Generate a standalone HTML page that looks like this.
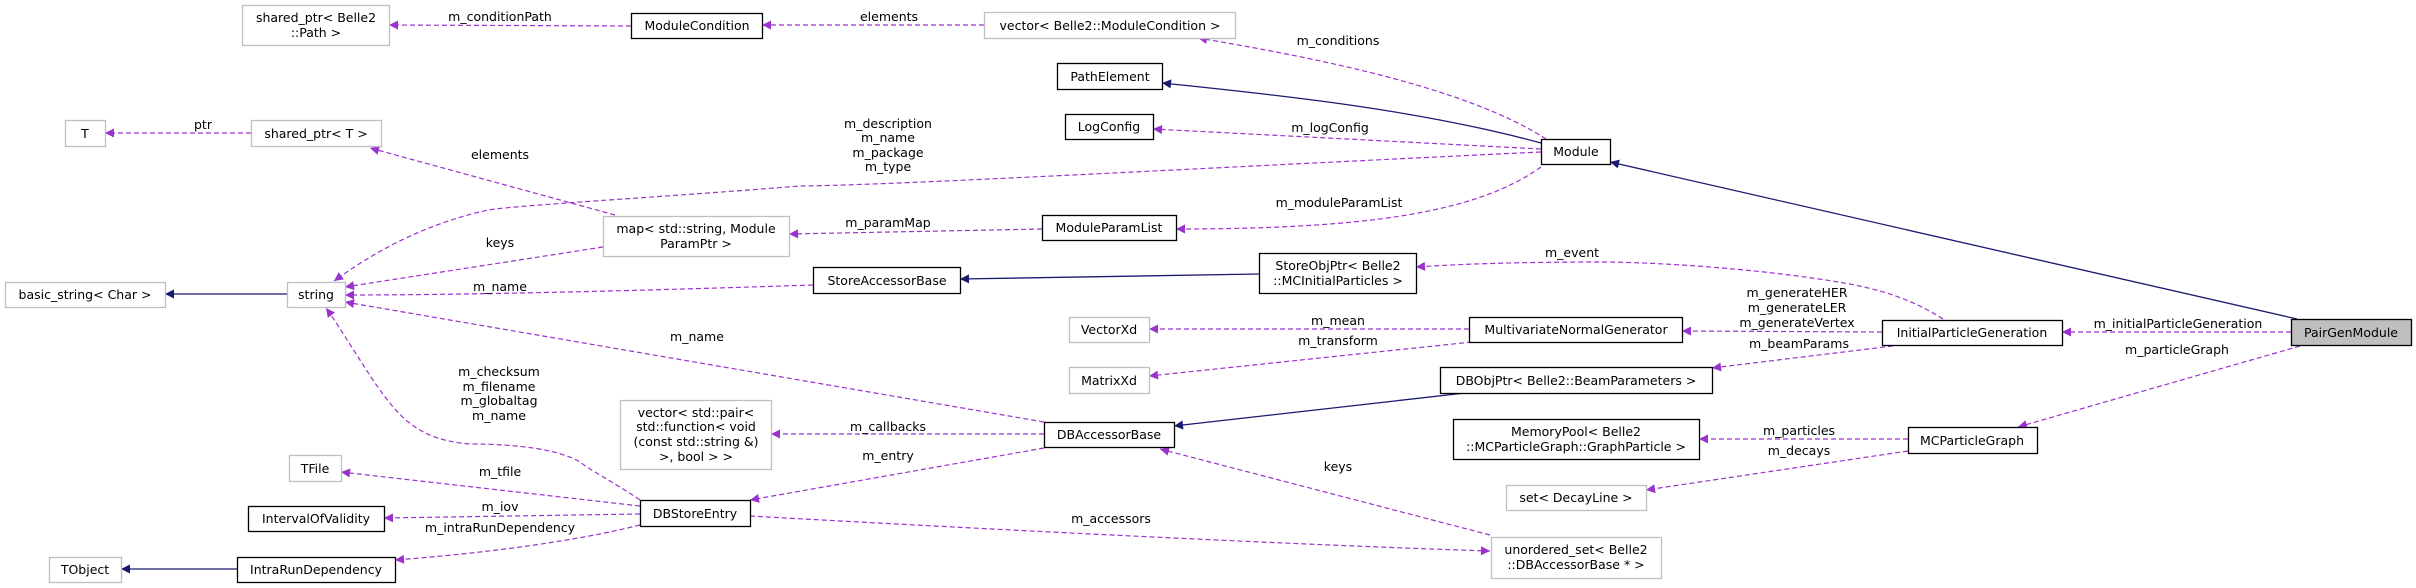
<!DOCTYPE html>
<html><head><meta charset="utf-8"><style>
html,body{margin:0;padding:0;background:#fff;}
svg{display:block;}
text{font-family:"DejaVu Sans","Liberation Sans",sans-serif;font-size:12.5px;fill:#000;}
.g{fill:#fff;stroke:#bfbfbf;stroke-width:1.3}
.b{fill:#fff;stroke:#000;stroke-width:1.3}
.d{fill:none;stroke:#9a32cd;stroke-width:1.2;stroke-dasharray:5,3}
.s{fill:none;stroke:#191970;stroke-width:1.3}
</style></head><body>
<svg width="2416" height="588" viewBox="0 0 2416 588" xmlns="http://www.w3.org/2000/svg">
<defs>
<marker id="ap" viewBox="0 0 10 10" refX="10" refY="5" markerWidth="11" markerHeight="9" markerUnits="userSpaceOnUse" orient="auto"><path d="M0,0 L10,5 L0,10 z" fill="#9a32cd"/></marker>
<marker id="an" viewBox="0 0 10 10" refX="10" refY="5" markerWidth="11" markerHeight="9" markerUnits="userSpaceOnUse" orient="auto"><path d="M0,0 L10,5 L0,10 z" fill="#191970"/></marker>
</defs>

<!-- edges -->
<g>
<path class="d" marker-end="url(#ap)" d="M631,26 L389,25"/>
<path class="d" marker-end="url(#ap)" d="M984,25 L762,25"/>
<path class="d" marker-end="url(#ap)" d="M1546,139 C1470,90 1330,60 1198,38"/>
<path class="s" marker-end="url(#an)" d="M1541,143 C1420,110 1280,95 1162,83"/>
<path class="d" marker-end="url(#ap)" d="M1541,149 L1153,129"/>
<path class="d" marker-end="url(#ap)" d="M1541,152 C1200,168 900,185 800,186 C650,198 520,205 488,210 C420,225 370,255 334,281"/>
<path class="d" marker-end="url(#ap)" d="M1541,167 C1480,210 1380,229 1176,229"/>
<path class="d" marker-end="url(#ap)" d="M1042,229 L789,234"/>
<path class="d" marker-end="url(#ap)" d="M615,215 L370,148"/>
<path class="d" marker-end="url(#ap)" d="M603,247 L345,287"/>
<path class="s" marker-end="url(#an)" d="M287,294 L165,294"/>
<path class="d" marker-end="url(#ap)" d="M251,133 L105,133"/>
<path class="d" marker-end="url(#ap)" d="M813,285 C600,292 450,295 345,295"/>
<path class="s" marker-end="url(#an)" d="M1259,274 L960,279"/>
<path class="d" marker-end="url(#ap)" d="M1044,422 L345,302"/>
<path class="d" marker-end="url(#ap)" d="M640,500 C610,480 590,470 580,462 C560,450 520,444 470,444 C420,440 400,420 373,380 C350,345 335,320 326,308"/>
<path class="d" marker-end="url(#ap)" d="M640,506 L341,472"/>
<path class="d" marker-end="url(#ap)" d="M640,514 L384,518"/>
<path class="d" marker-end="url(#ap)" d="M640,525 C560,545 460,555 395,560"/>
<path class="s" marker-end="url(#an)" d="M237,569 L121,569"/>
<path class="d" marker-end="url(#ap)" d="M1044,434 L771,434"/>
<path class="d" marker-end="url(#ap)" d="M1044,448 L750,500"/>
<path class="d" marker-end="url(#ap)" d="M750,516 C1000,530 1300,545 1490,551"/>
<path class="d" marker-end="url(#ap)" d="M1490,535 L1160,449"/>
<path class="s" marker-end="url(#an)" d="M1465,393 L1174,426"/>
<path class="d" marker-end="url(#ap)" d="M1469,329 L1149,329"/>
<path class="d" marker-end="url(#ap)" d="M1472,342 L1149,376"/>
<path class="d" marker-end="url(#ap)" d="M1943,319 C1910,298 1880,290 1850,284 C1760,268 1650,262 1600,262 C1520,262 1460,264 1416,267"/>
<path class="d" marker-end="url(#ap)" d="M1882,332 L1682,331"/>
<path class="d" marker-end="url(#ap)" d="M1893,346 L1712,368"/>
<path class="d" marker-end="url(#ap)" d="M2291,332 L2062,332"/>
<path class="s" marker-end="url(#an)" d="M2297,319 L1610,162"/>
<path class="d" marker-end="url(#ap)" d="M2300,346 L2018,427"/>
<path class="d" marker-end="url(#ap)" d="M1908,439 L1699,439"/>
<path class="d" marker-end="url(#ap)" d="M1908,451 L1646,490"/>
</g>

<!-- edge labels -->
<g text-anchor="middle">
<text x="500" y="21">m_conditionPath</text>
<text x="889" y="21">elements</text>
<text x="1338" y="45">m_conditions</text>
<text x="1330" y="132">m_logConfig</text>
<text x="888" y="128">m_description</text>
<text x="888" y="142">m_name</text>
<text x="888" y="157">m_package</text>
<text x="888" y="171">m_type</text>
<text x="1339" y="207">m_moduleParamList</text>
<text x="888" y="227">m_paramMap</text>
<text x="500" y="159">elements</text>
<text x="500" y="247">keys</text>
<text x="203" y="129">ptr</text>
<text x="500" y="291">m_name</text>
<text x="697" y="341">m_name</text>
<text x="499" y="376">m_checksum</text>
<text x="499" y="391">m_filename</text>
<text x="499" y="405">m_globaltag</text>
<text x="499" y="420">m_name</text>
<text x="500" y="476">m_tfile</text>
<text x="500" y="511">m_iov</text>
<text x="500" y="532">m_intraRunDependency</text>
<text x="888" y="431">m_callbacks</text>
<text x="888" y="460">m_entry</text>
<text x="1111" y="523">m_accessors</text>
<text x="1338" y="471">keys</text>
<text x="1338" y="325">m_mean</text>
<text x="1338" y="345">m_transform</text>
<text x="1572" y="257">m_event</text>
<text x="1797" y="297">m_generateHER</text>
<text x="1797" y="312">m_generateLER</text>
<text x="1797" y="327">m_generateVertex</text>
<text x="1799" y="348">m_beamParams</text>
<text x="2178" y="328">m_initialParticleGeneration</text>
<text x="2177" y="354">m_particleGraph</text>
<text x="1799" y="435">m_particles</text>
<text x="1799" y="455">m_decays</text>
</g>

<!-- nodes -->
<g text-anchor="middle">
<rect class="g" x="242.5" y="5.5" width="147" height="40"/><text x="316" y="22">shared_ptr&lt; Belle2</text><text x="316" y="37">::Path &gt;</text>
<rect class="b" x="631.5" y="13.5" width="131" height="25"/><text x="697" y="30">ModuleCondition</text>
<rect class="g" x="984.5" y="12.5" width="251" height="26"/><text x="1110" y="30">vector&lt; Belle2::ModuleCondition &gt;</text>
<rect class="b" x="1057.5" y="63.5" width="105" height="26"/><text x="1110" y="81">PathElement</text>
<rect class="b" x="1065.5" y="114.5" width="88" height="25"/><text x="1109" y="131">LogConfig</text>
<rect class="b" x="1541.5" y="139.5" width="69" height="25"/><text x="1576" y="156">Module</text>
<rect class="g" x="65.5" y="120.5" width="40" height="26"/><text x="85" y="138">T</text>
<rect class="g" x="251.5" y="120.5" width="130" height="26"/><text x="316" y="138">shared_ptr&lt; T &gt;</text>
<rect class="g" x="603.5" y="216.5" width="186" height="40"/><text x="696" y="233">map&lt; std::string, Module</text><text x="696" y="248">ParamPtr &gt;</text>
<rect class="b" x="1042.5" y="215.5" width="134" height="25"/><text x="1109" y="232">ModuleParamList</text>
<rect class="g" x="5.5" y="282.5" width="160" height="25"/><text x="85" y="299">basic_string&lt; Char &gt;</text>
<rect class="g" x="287.5" y="282.5" width="58" height="25"/><text x="316" y="299">string</text>
<rect class="b" x="813.5" y="267.5" width="147" height="26"/><text x="887" y="285">StoreAccessorBase</text>
<rect class="b" x="1259.5" y="253.5" width="157" height="40"/><text x="1338" y="270">StoreObjPtr&lt; Belle2</text><text x="1338" y="285">::MCInitialParticles &gt;</text>
<rect class="g" x="1069.5" y="317.5" width="80" height="25"/><text x="1109" y="334">VectorXd</text>
<rect class="g" x="1069.5" y="367.5" width="80" height="26"/><text x="1109" y="385">MatrixXd</text>
<rect class="b" x="1469.5" y="317.5" width="213" height="25"/><text x="1576" y="334">MultivariateNormalGenerator</text>
<rect class="b" x="1440.5" y="367.5" width="272" height="26"/><text x="1576" y="385">DBObjPtr&lt; Belle2::BeamParameters &gt;</text>
<rect class="b" x="1882.5" y="320.5" width="180" height="25"/><text x="1972" y="337">InitialParticleGeneration</text>
<rect x="2291.5" y="319.5" width="120" height="26" fill="#bfbfbf" stroke="#000" stroke-width="1.3"/><text x="2351" y="337">PairGenModule</text>
<rect class="g" x="620.5" y="400.5" width="151" height="69"/><text x="696" y="417">vector&lt; std::pair&lt;</text><text x="696" y="431">std::function&lt; void</text><text x="696" y="446">(const std::string &amp;)</text><text x="696" y="461">&gt;, bool &gt; &gt;</text>
<rect class="b" x="1044.5" y="422.5" width="130" height="25"/><text x="1109" y="439">DBAccessorBase</text>
<rect class="b" x="1453.5" y="419.5" width="246" height="40"/><text x="1576" y="436">MemoryPool&lt; Belle2</text><text x="1576" y="451">::MCParticleGraph::GraphParticle &gt;</text>
<rect class="b" x="1908.5" y="427.5" width="129" height="26"/><text x="1972" y="445">MCParticleGraph</text>
<rect class="g" x="1506.5" y="485.5" width="140" height="25"/><text x="1576" y="502">set&lt; DecayLine &gt;</text>
<rect class="g" x="289.5" y="455.5" width="52" height="26"/><text x="315" y="473">TFile</text>
<rect class="b" x="640.5" y="500.5" width="110" height="26"/><text x="695" y="518">DBStoreEntry</text>
<rect class="b" x="248.5" y="506.5" width="136" height="25"/><text x="316" y="523">IntervalOfValidity</text>
<rect class="g" x="1491.5" y="537.5" width="170" height="41"/><text x="1576" y="554">unordered_set&lt; Belle2</text><text x="1576" y="569">::DBAccessorBase * &gt;</text>
<rect class="g" x="49.5" y="557.5" width="72" height="25"/><text x="85" y="574">TObject</text>
<rect class="b" x="237.5" y="557.5" width="158" height="25"/><text x="316" y="574">IntraRunDependency</text>
</g>
</svg>
</body></html>
